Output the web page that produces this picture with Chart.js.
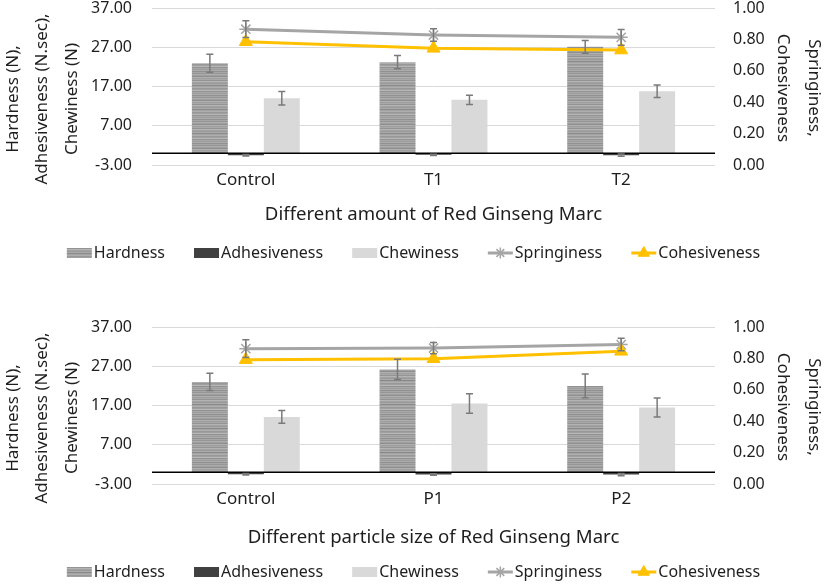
<!DOCTYPE html>
<html>
<head>
<meta charset="utf-8">
<script src="https://cdn.jsdelivr.net/npm/chart.js@4.4.1/dist/chart.umd.min.js"></script>
<style>
    body { margin: 0; background: #fff; }
    .painel { position: absolute; left: 0; width: 827px; height: 265px; }
</style>
</head>
<body>
<div class="painel" style="top:0px"><canvas id="graficoQuantidade" width="827" height="265"></canvas></div>
<div class="painel" style="top:319px"><canvas id="graficoParticula" width="827" height="265"></canvas></div>
<script>

// dados do grafico de cima (quantidade de residuo)
var categoriasQuantidade = ['Control', 'T1', 'T2'];
var hardnessQuantidade = [22.9, 23.2, 27.1];
var hardnessErroQuantidade = [2.3, 1.7, 1.6];
var adhesivenessQuantidade = [-0.5, -0.4, -0.5];
var adhesivenessErroQuantidade = [0.2, 0.15, 0.3];
var chewinessQuantidade = [14.0, 13.6, 15.8];
var chewinessErroQuantidade = [1.7, 1.2, 1.6];
var springinessQuantidade = [0.865, 0.828, 0.813];
var springinessErroQuantidade = [0.053, 0.04, 0.05];
var cohesivenessQuantidade = [0.785, 0.743, 0.732];

// dados do grafico de baixo (tamanho de particula)
var categoriasParticula = ['Control', 'P1', 'P2'];
var hardnessParticula = [23.0, 26.2, 22.0];
var hardnessErroParticula = [2.2, 2.6, 3.0];
var adhesivenessParticula = [-0.5, -0.6, -0.6];
var adhesivenessErroParticula = [0.2, 0.2, 0.3];
var chewinessParticula = [14.1, 17.5, 16.5];
var chewinessErroParticula = [1.6, 2.5, 2.4];
var springinessParticula = [0.862, 0.866, 0.888];
var springinessErroParticula = [0.057, 0.036, 0.04];
var cohesivenessParticula = [0.792, 0.798, 0.845];

// ticks dos eixos
var ticksEsquerda = [-3, 7, 17, 27, 37];
var ticksDireita = [0, 0.2, 0.4, 0.6, 0.8, 1.0];

var tituloEsquerda = ['Hardness (N),', 'Adhesiveness (N.sec),', 'Chewiness (N)'];
var tituloDireita = ['Springiness,', 'Cohesiveness'];

Chart.defaults.font.family = "'Noto Sans', sans-serif";
Chart.defaults.font.size = 16;
Chart.defaults.color = '#1e1e1e';

var FAMILIA = "'Noto Sans', sans-serif";

// listras horizontais das barras de hardness
function criarPadraoHardness() {
    var tons = [166, 150, 172, 160, 142, 176, 158, 168, 148, 180, 162, 154, 170, 138, 164, 174, 152, 160, 184, 146, 168, 156, 172, 144];
    var c = document.createElement('canvas');
    c.width = 4;
    c.height = tons.length;
    var cx = c.getContext('2d');
    for (var i = 0; i < tons.length; i++) {
        cx.fillStyle = 'rgb(' + tons[i] + ',' + tons[i] + ',' + tons[i] + ')';
        cx.fillRect(0, i, 4, 1);
    }
    return cx.createPattern(c, 'repeat');
}

var padraoHardness = criarPadraoHardness();

var pluginExtras = {
    id: 'extras',
    afterDatasetsDraw: function (chart) {
        var ctx = chart.ctx;
        var area = chart.chartArea;
        var y0 = chart.scales.y.getPixelForValue(0);

        ctx.save();
        // linha do zero
        ctx.strokeStyle = '#000';
        ctx.lineWidth = 1.5;
        ctx.beginPath();
        ctx.moveTo(area.left, y0);
        ctx.lineTo(area.right, y0);
        ctx.stroke();

        // barras de erro
        ctx.strokeStyle = '#7a7a7a';
        ctx.lineWidth = 1.5;
        chart.data.datasets.forEach(function (ds, i) {
            if (!ds.erros) return;
            var meta = chart.getDatasetMeta(i);
            var escala = chart.scales[ds.yAxisID];
            meta.data.forEach(function (el, j) {
                var topo = escala.getPixelForValue(ds.data[j] + ds.erros[j]);
                var base = escala.getPixelForValue(ds.data[j] - ds.erros[j]);
                ctx.beginPath();
                ctx.moveTo(el.x, topo);
                ctx.lineTo(el.x, base);
                ctx.moveTo(el.x - 3.5, topo);
                ctx.lineTo(el.x + 3.5, topo);
                ctx.moveTo(el.x - 3.5, base);
                ctx.lineTo(el.x + 3.5, base);
                ctx.stroke();
            });
        });
        ctx.restore();
    },
    afterDraw: function (chart, args, opts) {
        var ctx = chart.ctx;
        ctx.save();
        ctx.fillStyle = '#1e1e1e';
        ctx.textAlign = 'center';
        ctx.textBaseline = 'middle';

        // titulo do eixo x
        var area = chart.chartArea;
        ctx.font = '18.6px ' + FAMILIA;
        ctx.fillText(opts.tituloX, (area.left + area.right) / 2, opts.yTituloX);

        // titulo do eixo esquerdo
        ctx.font = '17px ' + FAMILIA;
        var xsEsq = [13, 42.5, 72];
        for (var i = 0; i < tituloEsquerda.length; i++) {
            ctx.save();
            ctx.translate(xsEsq[i], opts.yTituloEsq);
            ctx.rotate(-Math.PI / 2);
            ctx.fillText(tituloEsquerda[i], 0, 0);
            ctx.restore();
        }

        // titulo do eixo direito
        var xsDir = [814, 783];
        for (var k = 0; k < tituloDireita.length; k++) {
            ctx.save();
            ctx.translate(xsDir[k], opts.yTituloDir);
            ctx.rotate(Math.PI / 2);
            ctx.fillText(tituloDireita[k], 0, 0);
            ctx.restore();
        }

        // legenda
        ctx.font = '16px ' + FAMILIA;
        var larguraIcone = 25, gapTexto = 2, gapItem = 29;
        var itens = opts.ordemLegenda.map(function (idx) { return chart.data.datasets[idx]; });
        var total = 0;
        itens.forEach(function (ds) {
            total += larguraIcone + gapTexto + ctx.measureText(ds.label).width;
        });
        total += gapItem * (itens.length - 1);
        var x = (chart.width - total) / 2;
        var yc = opts.yLegenda;
        ctx.textAlign = 'left';
        itens.forEach(function (ds) {
            if (ds.type === 'line') {
                ctx.strokeStyle = ds.borderColor;
                ctx.lineWidth = 3;
                ctx.beginPath();
                ctx.moveTo(x, yc);
                ctx.lineTo(x + larguraIcone, yc);
                ctx.stroke();
                ctx.fillStyle = ds.pointBackgroundColor;
                ctx.strokeStyle = ds.pointBorderColor;
                ctx.lineWidth = ds.pointBorderWidth;
                Chart.helpers.drawPoint(ctx, { pointStyle: ds.pointStyle, radius: ds.pointRadius - 1, rotation: 0, borderWidth: ds.pointBorderWidth }, x + larguraIcone / 2, yc);
            } else {
                ctx.fillStyle = ds.backgroundColor;
                ctx.fillRect(x, yc - 5, larguraIcone, 10);
            }
            ctx.fillStyle = '#1e1e1e';
            ctx.fillText(ds.label, x + larguraIcone + gapTexto, yc);
            x += larguraIcone + gapTexto + ctx.measureText(ds.label).width + gapItem;
        });
        ctx.restore();
    }
};

function plotarGrafico(idCanvas, categorias, hardness, hardnessErro, adhesiveness, adhesivenessErro,
                       chewiness, chewinessErro, springiness, springinessErro, cohesiveness, tituloX, yTituloX) {

    var dados = {
        labels: categorias,
        datasets: [
            {
                label: 'Hardness',
                data: hardness,
                erros: hardnessErro,
                backgroundColor: padraoHardness,
                yAxisID: 'y',
                order: 2
            },
            {
                label: 'Adhesiveness',
                data: adhesiveness,
                erros: adhesivenessErro,
                backgroundColor: '#404040',
                yAxisID: 'y',
                order: 2
            },
            {
                label: 'Chewiness',
                data: chewiness,
                erros: chewinessErro,
                backgroundColor: '#d9d9d9',
                yAxisID: 'y',
                order: 2
            },
            {
                type: 'line',
                label: 'Springiness',
                data: springiness,
                erros: springinessErro,
                yAxisID: 'y1',
                borderColor: '#a5a5a5',
                borderWidth: 3,
                pointStyle: 'star',
                pointRadius: 6.5,
                pointBorderColor: '#a5a5a5',
                pointBackgroundColor: '#a5a5a5',
                pointBorderWidth: 1.5,
                order: 1
            },
            {
                type: 'line',
                label: 'Cohesiveness',
                data: cohesiveness,
                yAxisID: 'y1',
                borderColor: '#ffc000',
                borderWidth: 3,
                pointStyle: 'triangle',
                pointRadius: 7.5,
                pointBorderColor: '#ffc000',
                pointBackgroundColor: '#ffc000',
                pointBorderWidth: 1,
                order: 0
            }
        ]
    };

    var config = {
        type: 'bar',
        data: dados,
        options: {
            responsive: false,
            animation: false,
            devicePixelRatio: 1,
            layout: { autoPadding: false, padding: { top: 8, left: 0, right: 0, bottom: 0 } },
            datasets: {
                bar: { categoryPercentage: 0.575, barPercentage: 1 }
            },
            plugins: {
                legend: { display: false },
                tooltip: { enabled: false },
                extras: {
                    tituloX: tituloX,
                    yTituloX: yTituloX,
                    yTituloEsq: 99,
                    yTituloDir: 88,
                    yLegenda: 253,
                    ordemLegenda: [0, 1, 2, 3, 4]
                }
            },
            scales: {
                x: {
                    grid: { display: false, drawTicks: false },
                    border: { display: false },
                    ticks: { padding: 5, font: { size: 17 } },
                    afterFit: function (s) { s.height = 100; }
                },
                y: {
                    position: 'left',
                    min: -3,
                    max: 37,
                    afterBuildTicks: function (s) {
                        s.ticks = ticksEsquerda.map(function (v) { return { value: v }; });
                    },
                    ticks: {
                        padding: 0,
                        font: { lineHeight: 1 },
                        callback: function (v) { return Number(v).toFixed(2); }
                    },
                    grid: { color: '#d9d9d9', lineWidth: 1, drawTicks: true, tickLength: 20, tickColor: 'rgba(0,0,0,0)' },
                    border: { display: false },
                    afterFit: function (s) { s.width = 152; }
                },
                y1: {
                    position: 'right',
                    min: 0,
                    max: 1,
                    afterBuildTicks: function (s) {
                        s.ticks = ticksDireita.map(function (v) { return { value: v }; });
                    },
                    ticks: {
                        padding: 0,
                        font: { lineHeight: 1 },
                        callback: function (v) { return Number(v).toFixed(2); }
                    },
                    grid: { display: true, drawOnChartArea: false, drawTicks: true, tickLength: 18, tickColor: 'rgba(0,0,0,0)' },
                    border: { display: false },
                    afterFit: function (s) { s.width = 112; }
                }
            }
        },
        plugins: [pluginExtras]
    };

    // Adicionando gráfico criado no canvas
    return new Chart(document.getElementById(idCanvas), config);
}

plotarGrafico('graficoQuantidade', categoriasQuantidade, hardnessQuantidade, hardnessErroQuantidade,
    adhesivenessQuantidade, adhesivenessErroQuantidade, chewinessQuantidade, chewinessErroQuantidade,
    springinessQuantidade, springinessErroQuantidade, cohesivenessQuantidade,
    'Different amount of Red Ginseng Marc', 215);

plotarGrafico('graficoParticula', categoriasParticula, hardnessParticula, hardnessErroParticula,
    adhesivenessParticula, adhesivenessErroParticula, chewinessParticula, chewinessErroParticula,
    springinessParticula, springinessErroParticula, cohesivenessParticula,
    'Different particle size of Red Ginseng Marc', 219);
</script>
</body>
</html>
